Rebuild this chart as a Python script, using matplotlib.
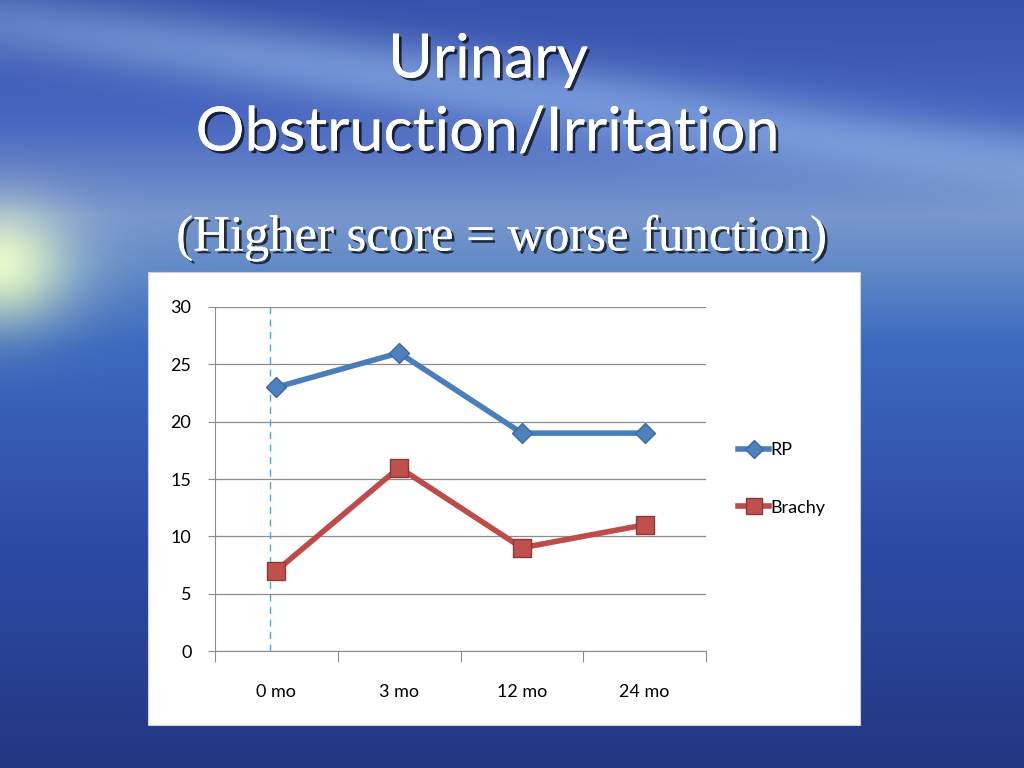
import matplotlib
matplotlib.use('Agg')
import matplotlib.pyplot as plt
import matplotlib.patheffects as pe
from matplotlib.patches import Rectangle
import numpy as np

# chart data
months = ['0 mo', '3 mo', '12 mo', '24 mo']
rp = [23, 26, 19, 19]
brachy = [7, 16, 9, 11]

W, H = 1024, 768
fig = plt.figure(figsize=(W / 100, H / 100), dpi=100)

# slide background: sky over sea
yy, xx = np.mgrid[0:H, 0:W] / np.array([H, W])[:, None, None]
ys = [0.0, 0.15, 0.28, 0.34, 0.45, 0.7, 1.0]
r = np.interp(yy, ys, [55, 70, 120, 100, 60, 45, 35])
g = np.interp(yy, ys, [80, 100, 150, 140, 105, 75, 55])
b = np.interp(yy, ys, [170, 190, 205, 200, 190, 165, 130])
glow = np.exp(-(xx / 0.07) ** 2 - ((yy - 0.35) / 0.08) ** 2)
r = r + glow * 130
g = g + glow * 110
b = b + glow * 0
clouds = np.exp(-((yy - 0.02 - 0.2 * xx) / 0.05) ** 2) * np.exp(-((yy - 0.1) / 0.15) ** 2)
r = r + clouds * 50
g = g + clouds * 55
b = b + clouds * 30
bg = np.clip(np.dstack([r, g, b]) / 255, 0, 1)

ax_bg = fig.add_axes([0, 0, 1, 1])
ax_bg.imshow(bg, aspect='auto', extent=[0, 1, 0, 1])
ax_bg.set_xlim(0, 1)
ax_bg.set_ylim(0, 1)
ax_bg.axis('off')
ax_bg.add_patch(Rectangle((148 / W, 1 - 725 / H), 712 / W, 453 / H,
                          facecolor='white', edgecolor='#d0d0d0', lw=0.8))

shadow = [pe.withSimplePatchShadow(offset=(2, -2), shadow_rgbFace='black', alpha=0.7), pe.Normal()]
fig.text(488 / W, 1 - 60 / H, 'Urinary', ha='center', va='center', color='white',
         fontsize=44, family=['Lato', 'DejaVu Sans'], path_effects=shadow)
fig.text(488 / W, 1 - 133 / H, 'Obstruction/Irritation', ha='center', va='center', color='white',
         fontsize=44, family=['Lato', 'DejaVu Sans'], path_effects=shadow)
fig.text(502 / W, 1 - 238 / H, '(Higher score = worse function)', ha='center', va='center',
         color='white', fontsize=36.5, family=['Liberation Serif', 'DejaVu Serif'], path_effects=shadow)

# chart
ax = fig.add_axes([215 / W, 1 - 651 / H, 491 / W, 344 / H])
ax.set_facecolor('white')
x = np.arange(len(months))
ax.plot(x, rp, color='#4a7ebb', lw=4, marker='D', ms=10, mfc='#4f81bd', mec='#3a6aa8',
        label='RP', zorder=3)
ax.plot(x, brachy, color='#be4b48', lw=4, marker='s', ms=13, mfc='#c0504d', mec='#8c3836',
        label='Brachy', zorder=3)
ax.axvline(-0.05, color='#4bacc6', lw=1, ls=(0, (5, 4)), zorder=2)

ax.set_xlim(-0.5, len(months) - 0.5)
ax.set_ylim(0, 30)
ax.set_yticks(range(0, 31, 5))
ax.yaxis.grid(True, color='#8c8c8c', lw=0.9)
ax.set_axisbelow(True)
ax.set_xticks(np.arange(-0.5, len(months)), labels=[])
ax.set_xticks(x, labels=months, minor=True)
ax.tick_params(axis='x', which='major', length=8, direction='out', color='#8c8c8c')
ax.tick_params(axis='x', which='minor', length=0, pad=24, labelsize=13)
ax.tick_params(axis='y', length=5, color='#8c8c8c', pad=12, labelsize=13)
for lab in ax.get_xticklabels(minor=True) + ax.get_yticklabels():
    lab.set_family(['Lato', 'DejaVu Sans'])
for s in ['top', 'right']:
    ax.spines[s].set_visible(False)
for s in ['left', 'bottom']:
    ax.spines[s].set_color('#8c8c8c')

leg = ax.legend(loc='center left', bbox_to_anchor=(722 / W, 1 - 479 / H),
                bbox_transform=fig.transFigure, frameon=False,
                handlelength=1.7, handletextpad=0.1, labelspacing=2.3, markerscale=0.9,
                prop={'family': ['Lato', 'DejaVu Sans'], 'size': 13})

fig.savefig('out.png', dpi=100)
